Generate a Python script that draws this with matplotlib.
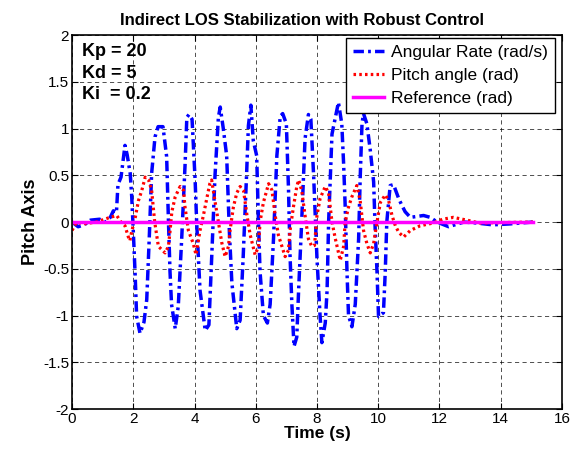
import matplotlib
matplotlib.use("Agg")
from matplotlib import pyplot as plt

plt.rcParams['font.family'] = ['Liberation Sans', 'DejaVu Sans']

# angular rate (rad/s)
rate_t = [0, 0.2, 0.4, 0.6, 0.9, 1.1, 1.25, 1.35, 1.45, 1.5,
          1.6, 1.73, 1.8, 1.9, 1.95, 2.0, 2.06, 2.11, 2.22, 2.35,
          2.44, 2.52, 2.6, 2.71, 2.81, 2.97, 3.09, 3.15, 3.2, 3.25,
          3.37, 3.47, 3.58, 3.69, 3.75, 3.82, 3.92, 4.02, 4.07, 4.18,
          4.35, 4.47, 4.56, 4.67, 4.78, 4.84, 4.94, 5.05, 5.14, 5.22,
          5.38, 5.49, 5.59, 5.7, 5.76, 5.84, 5.92, 6.03, 6.09, 6.14,
          6.25, 6.38, 6.47, 6.58, 6.69, 6.8, 6.88, 7.0, 7.07, 7.12,
          7.18, 7.25, 7.34, 7.4, 7.5, 7.61, 7.72, 7.8, 7.89, 8.0,
          8.1, 8.16, 8.27, 8.33, 8.38, 8.49, 8.7, 8.81, 8.87, 8.92,
          8.98, 9.03, 9.14, 9.25, 9.36, 9.41, 9.47, 9.52, 9.63, 9.74,
          9.85, 9.9, 9.96, 10.01, 10.17, 10.23, 10.28, 10.39, 10.5, 10.67,
          10.77, 10.88, 11.05, 11.48, 11.7, 11.92, 12.3, 12.5, 12.8, 13.2,
          13.74, 14.3, 15.05]
rate = [0, -0.05, -0.03, 0.02, 0.03, 0.0, 0.05, 0.12, 0.1, 0.4,
        0.48, 0.82, 0.72, 0.52, 0.27, -0.09, -0.55, -1.01, -1.19, -1.07,
        -0.83, -0.19, 0.52, 0.91, 1.02, 1.02, 0.7, 0.0, -0.53, -0.88,
        -1.14, -0.9, -0.19, 0.6, 1.12, 1.15, 1.1, 0.45, 0.0, -0.73,
        -1.16, -1.1, -0.39, 0.5, 1.12, 1.23, 1.0, 0.71, -0.11, -0.65,
        -1.14, -1.05, -0.37, 0.5, 1.03, 1.25, 0.87, 0.71, 0.0, -0.53,
        -1.0, -1.08, -0.88, -0.18, 0.71, 1.13, 1.16, 1.05, 0.35, -0.36,
        -0.88, -1.33, -1.23, -0.73, 0.0, 0.89, 1.15, 1.1, 0.5, -0.39,
        -1.0, -1.29, -1.08, -0.73, 0.0, 0.94, 1.28, 1.05, 0.62, 0.18,
        -0.53, -1.0, -1.12, -0.88, -0.18, 0.46, 1.05, 1.16, 1.05, 0.77,
        0.43, -0.07, -0.53, -1.01, -0.97, -0.53, 0.0, 0.39, 0.4, 0.25,
        0.18, 0.11, 0.05, 0.07, 0.05, 0.0, -0.05, -0.03, 0.0, -0.01,
        -0.03, -0.02, 0.0]

# pitch angle (rad)
pitch_t = [0, 0.15, 0.37, 0.8, 1.24, 1.46, 1.6, 1.73, 1.84, 1.89,
           1.95, 2.06, 2.17, 2.28, 2.39, 2.5, 2.6, 2.7, 2.82, 3.04,
           3.15, 3.2, 3.26, 3.37, 3.53, 3.64, 3.69, 3.8, 3.96, 4.05,
           4.18, 4.29, 4.4, 4.5, 4.56, 4.67, 4.78, 4.89, 5.0, 5.11,
           5.16, 5.27, 5.38, 5.49, 5.6, 5.71, 5.82, 5.98, 6.09, 6.14,
           6.25, 6.42, 6.53, 6.63, 6.74, 6.96, 7.07, 7.12, 7.23, 7.34,
           7.4, 7.5, 7.61, 7.72, 7.83, 7.92, 8.0, 8.1, 8.27, 8.38,
           8.49, 8.6, 8.76, 8.87, 8.92, 9.03, 9.14, 9.3, 9.41, 9.52,
           9.63, 9.74, 9.85, 9.96, 10.07, 10.23, 10.34, 10.45, 10.56, 10.67,
           10.83, 11.05, 11.37, 11.8, 12.1, 12.45, 12.9, 13.3, 15.05]
pitch = [-0.09, 0.0, -0.02, 0.0, 0.05, 0.07, 0.0, -0.04, -0.16, -0.2,
         -0.1, 0.04, 0.23, 0.34, 0.48, 0.45, 0.34, 0.0, -0.26, -0.33,
         -0.26, -0.1, 0.11, 0.27, 0.38, 0.34, 0.16, -0.09, -0.23, -0.35,
         -0.09, 0.07, 0.25, 0.41, 0.45, 0.22, 0.0, -0.22, -0.37, -0.26,
         -0.09, 0.16, 0.31, 0.38, 0.34, 0.08, -0.14, -0.35, -0.26, 0.0,
         0.21, 0.41, 0.34, 0.08, -0.14, -0.37, -0.3, -0.09, 0.16, 0.38,
         0.45, 0.34, 0.07, -0.18, -0.26, -0.25, 0.07, 0.25, 0.38, 0.31,
         0.0, -0.18, -0.41, -0.26, 0.0, 0.16, 0.27, 0.39, 0.23, -0.09,
         -0.23, -0.33, -0.23, 0.0, 0.21, 0.29, 0.23, 0.07, -0.04, -0.11,
         -0.16, -0.09, -0.04, -0.01, 0.03, 0.05, 0.02, -0.01, 0.0]

ref_t = [0, 15.05]
ref = [0, 0]

gains = ["Kp = 20", "Kd = 5", "Ki  = 0.2"]

fig = plt.figure(figsize=(5.73, 4.55), dpi=100)
ax = fig.add_axes([0.1257, 0.101, 0.855, 0.822])

ax.plot(rate_t, rate, color='#0000FF', lw=2.5, linestyle=(0, (3, 1.2, 0.8, 1.2)),
        label="Angular Rate (rad/s)")
ax.plot(pitch_t, pitch, color='#FF0000', lw=2.3, linestyle=(0, (0.8, 1.0)),
        label="Pitch angle (rad)")
ax.plot(ref_t, ref, color='#FF00FF', lw=2.5, label="Reference (rad)")

ax.set_xlim(0, 16)
ax.set_ylim(-2, 2)
ax.set_xticks(range(0, 17, 2))
ax.set_yticks([-2, -1.5, -1, -0.5, 0, 0.5, 1, 1.5, 2])
ax.set_yticklabels(["-2", "-1.5", "-1", "-0.5", "0", "0.5", "1", "1.5", "2"])
ax.tick_params(direction='in', top=True, right=True, length=4, labelsize=11, pad=2)
ax.grid(True, color='k', linestyle=(0, (5, 4)), lw=0.6, alpha=0.8)
for s in ax.spines.values():
    s.set_linewidth(1.2)

ax.set_title("Indirect LOS Stabilization with Robust Control", fontsize=12,
             fontweight='bold', pad=7, x=0.47)
ax.set_xlabel("Time (s)", fontsize=12.5, fontweight='bold', labelpad=0)
ax.set_ylabel("Pitch Axis", fontsize=13, fontweight='bold', labelpad=3)

for i, g in enumerate(gains):
    ax.text(0.33, 1.82 - i * 0.23, g, fontsize=13, fontweight='bold', va='center')

leg = ax.legend(loc='upper right', bbox_to_anchor=(0.986, 0.993), fontsize=12.5,
                frameon=True, fancybox=False, framealpha=1, edgecolor='k',
                borderaxespad=0, handlelength=1.8, labelspacing=0.45,
                borderpad=0.4, handletextpad=0.4)
leg.get_frame().set_linewidth(1.0)

fig.savefig("out.png", dpi=100)
